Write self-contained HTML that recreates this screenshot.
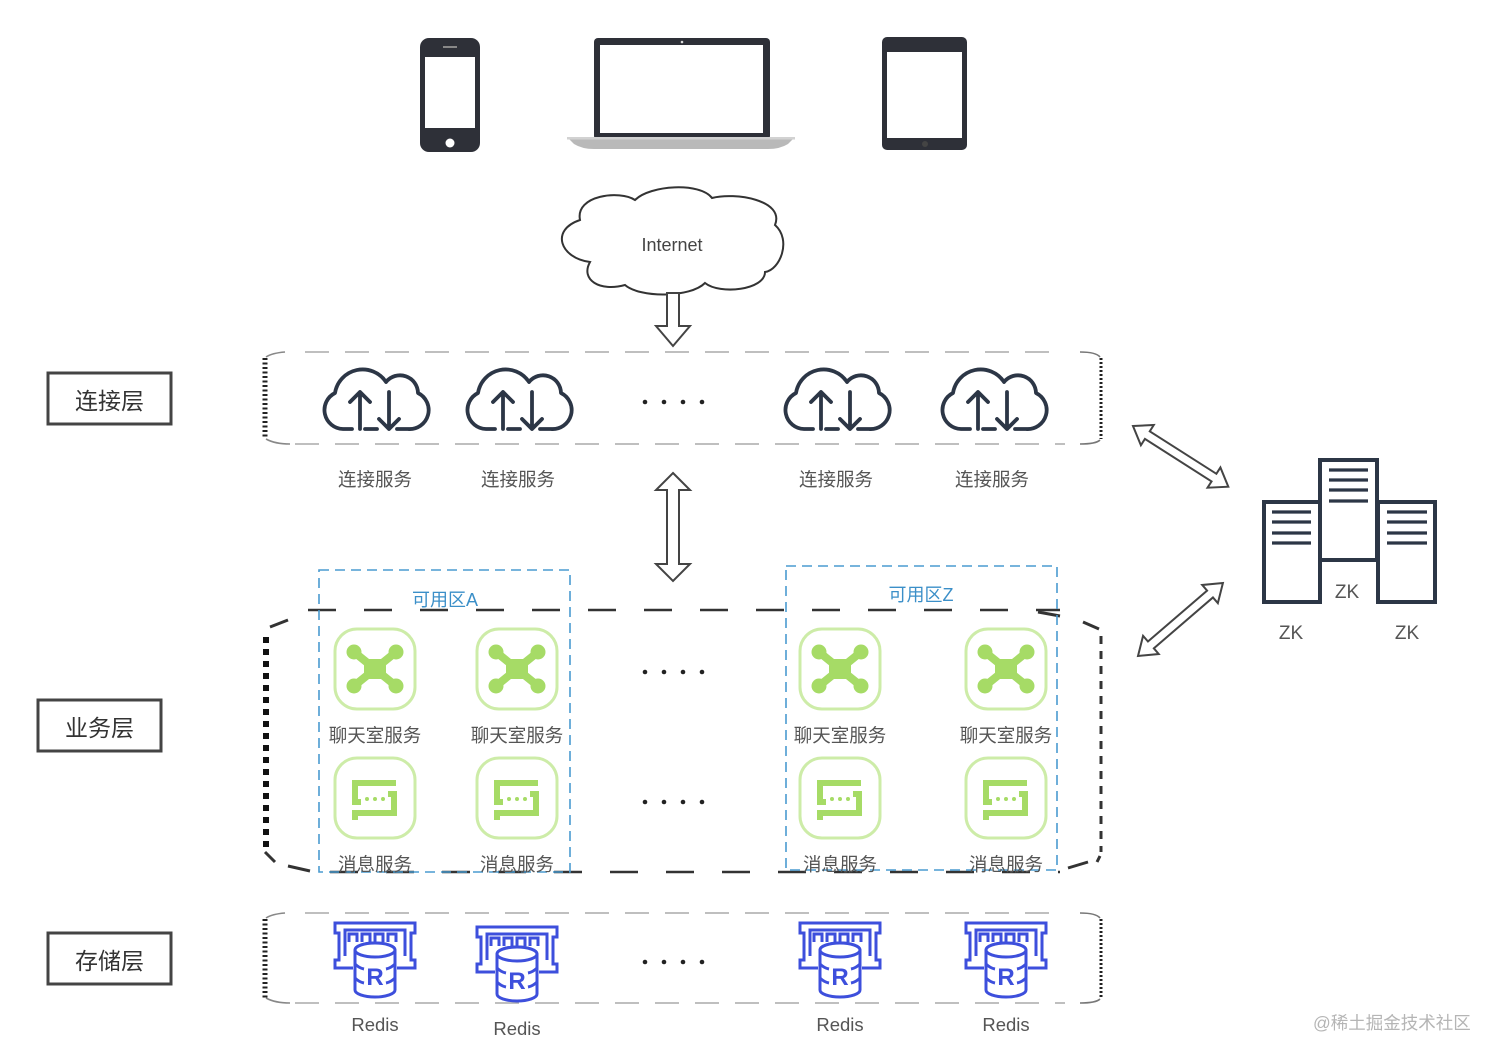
<!DOCTYPE html>
<html><head><meta charset="utf-8"><style>
html,body{margin:0;padding:0;background:#fff;}
svg{display:block;}
text{font-family:"Liberation Sans","Noto Sans CJK SC",sans-serif;}
</style></head><body>
<svg width="1500" height="1061" viewBox="0 0 1500 1061" xmlns="http://www.w3.org/2000/svg">
<defs>
  <g id="cloudio" fill="none" stroke="#2c3646" stroke-width="3.8" stroke-linecap="round" stroke-linejoin="round">
    <path d="M-23 64 H-32 A19 19 0 0 1 -40 28 A28 28 0 0 1 11 17 A18 18 0 0 1 43 28 A19 19 0 0 1 33 64 H22"/>
    <path d="M-15 64 V27 M-25 37 L-15 27 L-5 37"/>
    <path d="M-10 64 H2"/>
    <path d="M14 27 V64 M4 54 L14 64 L24 54"/>
  </g>
  <g id="chat">
    <rect x="-40" y="-40" width="80" height="80" rx="22" fill="none" stroke="#cdeca8" stroke-width="3"/>
    <g stroke="#a6db66" stroke-width="8" stroke-linecap="round">
      <line x1="-21" y1="-17" x2="21" y2="17"/>
      <line x1="21" y1="-17" x2="-21" y2="17"/>
    </g>
    <g fill="#a6db66">
      <rect x="-11" y="-10" width="22" height="20" rx="3"/>
      <circle cx="-21" cy="-17" r="7.5"/><circle cx="21" cy="-17" r="7.5"/>
      <circle cx="-21" cy="17" r="7.5"/><circle cx="21" cy="17" r="7.5"/>
    </g>
  </g>
  <g id="msg">
    <rect x="-40" y="-40" width="80" height="80" rx="22" fill="none" stroke="#cdeca8" stroke-width="3"/>
    <g fill="none" stroke="#a6db66" stroke-width="6">
      <path d="M21 -15 H-20 V4 H-14"/>
      <path d="M13 -4 H19 V15 H-20 V22"/>
    </g>
    <g fill="#a6db66"><circle cx="-8" cy="1" r="2"/><circle cx="0" cy="1" r="2"/><circle cx="8" cy="1" r="2"/></g>
  </g>
  <g id="redis">
    <g fill="none" stroke="#3d4fdc" stroke-width="3" stroke-linejoin="miter">
      <path d="M-22 8 H-40 V0 H-36 V-27 H-40 V-37 H40 V-27 H36 V0 H40 V8 H22"/>
      <path d="M-30 -4 V-30 H30 V-4"/>
      <path d="M-26 -18 V-26 H-18 V-18 M-13 -18 V-26 H-5 V-18 M0 -18 V-26 H8 V-18 M13 -18 V-26 H21 V-18"/>
    </g>
    <path d="M-20 -10 V30 A20 7 0 0 0 20 30 V-10 A20 7 0 0 0 -20 -10 Z" fill="#fff" stroke="#3d4fdc" stroke-width="3"/>
    <ellipse cx="0" cy="-10" rx="20" ry="7" fill="#fff" stroke="#3d4fdc" stroke-width="3"/>
    <path d="M-20 4 Q-16 8 -11 9 M11 9 Q16 8 20 4 M-20 18 Q-16 22 -11 23 M11 23 Q16 22 20 18" fill="none" stroke="#3d4fdc" stroke-width="3"/>
    <text x="0" y="25" text-anchor="middle" font-size="24" font-weight="bold" fill="#3d4fdc">R</text>
  </g>
  <g id="dots" fill="#222"><circle cx="645" cy="0" r="2.3"/><circle cx="664" cy="0" r="2.3"/><circle cx="683" cy="0" r="2.3"/><circle cx="702" cy="0" r="2.3"/></g>
</defs>

<!-- Devices -->
<rect x="420" y="38" width="60" height="114" rx="9" fill="#2e3038"/>
<rect x="425" y="57" width="50" height="71" fill="#fff"/>
<circle cx="450" cy="143" r="4.5" fill="#fff"/>
<rect x="443" y="46" width="14" height="2" fill="#888"/>

<rect x="594" y="38" width="176" height="102" rx="4" fill="#2e3038"/>
<rect x="600" y="45" width="163" height="88" fill="#fff"/>
<circle cx="682" cy="42" r="1.3" fill="#ddd"/>
<path d="M567 137 H795 L788 144 Q780 149 768 149 H594 Q582 149 574 144 Z" fill="#b9b9b9"/>
<rect x="567" y="137" width="228" height="2.5" fill="#d2d2d2"/>

<rect x="882" y="37" width="85" height="113" rx="5" fill="#2e3038"/>
<rect x="887" y="52" width="75" height="86" fill="#fff"/>
<circle cx="925" cy="144" r="3" fill="#444"/>

<!-- Internet cloud -->
<path d="M590 262 C560 258,550 230,580 220 C575 195,620 190,635 200 C650 185,700 182,712 198 C735 192,785 200,775 225 C792 240,780 270,765 272 C765 290,720 295,705 283 C690 298,640 298,625 285 C600 292,580 280,590 262 Z" fill="#fff" stroke="#333" stroke-width="2"/>
<text x="672" y="251" text-anchor="middle" font-size="18" fill="#444">Internet</text>
<polygon points="667,293 679,293 679,326 690,326 673,346 656,326 667,326" fill="#fff" stroke="#444" stroke-width="2"/>

<!-- Left labels -->
<rect x="48" y="373" width="123" height="51" fill="none" stroke="#444" stroke-width="3"/>
<text x="109.5" y="409" text-anchor="middle" font-size="23" fill="#333">连接层</text>
<rect x="38" y="700" width="123" height="51" fill="none" stroke="#444" stroke-width="3"/>
<text x="99.5" y="736" text-anchor="middle" font-size="23" fill="#333">业务层</text>
<rect x="48" y="933" width="123" height="51" fill="none" stroke="#444" stroke-width="3"/>
<text x="109.5" y="969" text-anchor="middle" font-size="23" fill="#333">存储层</text>

<!-- Connection layer box -->
<g fill="none">
  <line x1="305" y1="352" x2="1065" y2="352" stroke="#aaa" stroke-width="1.6" stroke-dasharray="24 16"/>
  <line x1="295" y1="444" x2="1065" y2="444" stroke="#aaa" stroke-width="1.6" stroke-dasharray="24 16"/>
  <path d="M266 357 Q272 353 285 352" stroke="#888" stroke-width="1.6"/>
  <path d="M266 439 Q275 444 290 444" stroke="#888" stroke-width="1.6"/>
  <line x1="265" y1="358" x2="265" y2="438" stroke="#222" stroke-width="5" stroke-dasharray="2 2.5"/>
  <path d="M1080 352 Q1096 352 1100 357" stroke="#777" stroke-width="1.6"/>
  <path d="M1080 444 Q1096 444 1100 440" stroke="#777" stroke-width="1.6"/>
  <line x1="1101" y1="358" x2="1101" y2="439" stroke="#222" stroke-width="3" stroke-dasharray="2 2"/>
</g>
<use href="#cloudio" x="375" y="365"/>
<use href="#cloudio" x="518" y="365"/>
<use href="#cloudio" x="836" y="365"/>
<use href="#cloudio" x="993" y="365"/>
<use href="#dots" x="0" y="402"/>
<g font-size="18.5" fill="#555" text-anchor="middle">
  <text x="375" y="486">连接服务</text>
  <text x="518" y="486">连接服务</text>
  <text x="836" y="486">连接服务</text>
  <text x="992" y="486">连接服务</text>
</g>

<!-- middle double arrow -->
<polygon points="673,473 690,490 679,490 679,564 690,564 673,581 656,564 667,564 667,490 656,490" fill="#fff" stroke="#444" stroke-width="2"/>

<!-- ZK arrows -->
<polygon transform="translate(1133,426) rotate(32.5)" points="0,0 17,-12 17,-4.5 96,-4.5 96,-12 113,0 96,12 96,4.5 17,4.5 17,12" fill="#fff" stroke="#444" stroke-width="2"/>
<polygon transform="translate(1138,656) rotate(-40.7)" points="0,0 17,-12 17,-4.5 95,-4.5 95,-12 112,0 95,12 95,4.5 17,4.5 17,12" fill="#fff" stroke="#444" stroke-width="2"/>

<!-- ZK servers -->
<g fill="#fff" stroke="#2c3646" stroke-width="4">
  <rect x="1264" y="502" width="56" height="100"/>
  <rect x="1378" y="502" width="57" height="100"/>
  <rect x="1320" y="460" width="57" height="100"/>
</g>
<g stroke="#2c3646" stroke-width="3.2">
  <line x1="1329" y1="470" x2="1368" y2="470"/><line x1="1329" y1="480" x2="1368" y2="480"/><line x1="1329" y1="490" x2="1368" y2="490"/><line x1="1329" y1="501" x2="1368" y2="501"/>
  <line x1="1272" y1="512" x2="1311" y2="512"/><line x1="1272" y1="522" x2="1311" y2="522"/><line x1="1272" y1="533" x2="1311" y2="533"/><line x1="1272" y1="543" x2="1311" y2="543"/>
  <line x1="1387" y1="512" x2="1427" y2="512"/><line x1="1387" y1="522" x2="1427" y2="522"/><line x1="1387" y1="533" x2="1427" y2="533"/><line x1="1387" y1="543" x2="1427" y2="543"/>
</g>
<g font-size="19" fill="#555" text-anchor="middle">
  <text x="1347" y="598">ZK</text>
  <text x="1291" y="639">ZK</text>
  <text x="1407" y="639">ZK</text>
</g>

<!-- Business layer box -->
<g fill="none" stroke="#333">
  <line x1="308" y1="610" x2="1060" y2="610" stroke-width="2.6" stroke-dasharray="28 28"/>
  <path d="M270 627 L288 620" stroke-width="3"/>
  <line x1="266" y1="637" x2="266" y2="848" stroke-width="6" stroke-dasharray="6 6" stroke="#111"/>
  <path d="M265 852 L275 862" stroke-width="3"/>
  <path d="M288 866 L310 871" stroke-width="3"/>
  <line x1="330" y1="872" x2="1060" y2="872" stroke-width="2.6" stroke-dasharray="28 28"/>
  <path d="M1038 612 L1060 616" stroke-width="3"/>
  <path d="M1083 622 L1099 629" stroke-width="3"/>
  <line x1="1101" y1="636" x2="1101" y2="852" stroke-width="3" stroke-dasharray="8 7"/>
  <path d="M1100 856 L1097 862" stroke-width="3"/>
  <path d="M1068 868 L1088 862" stroke-width="3"/>
</g>
<!-- availability zones -->
<rect x="319" y="570" width="251" height="302" fill="none" stroke="#4a9bd0" stroke-width="1.6" stroke-dasharray="10 6"/>
<rect x="786" y="566" width="271" height="304" fill="none" stroke="#4a9bd0" stroke-width="1.6" stroke-dasharray="10 6"/>
<text x="445" y="606" text-anchor="middle" font-size="18" fill="#3b8fc8">可用区A</text>
<text x="921" y="601" text-anchor="middle" font-size="18" fill="#3b8fc8">可用区Z</text>

<use href="#chat" x="375" y="669"/>
<use href="#chat" x="517" y="669"/>
<use href="#chat" x="840" y="669"/>
<use href="#chat" x="1006" y="669"/>
<use href="#msg" x="375" y="798"/>
<use href="#msg" x="517" y="798"/>
<use href="#msg" x="840" y="798"/>
<use href="#msg" x="1006" y="798"/>
<use href="#dots" x="0" y="672"/>
<use href="#dots" x="0" y="802"/>
<g font-size="18.5" fill="#555" text-anchor="middle">
  <text x="375" y="742">聊天室服务</text>
  <text x="517" y="742">聊天室服务</text>
  <text x="840" y="742">聊天室服务</text>
  <text x="1006" y="742">聊天室服务</text>
  <text x="375" y="871">消息服务</text>
  <text x="517" y="871">消息服务</text>
  <text x="840" y="871">消息服务</text>
  <text x="1006" y="871">消息服务</text>
</g>

<!-- Storage layer box -->
<g fill="none">
  <line x1="305" y1="913" x2="1065" y2="913" stroke="#aaa" stroke-width="1.6" stroke-dasharray="24 16"/>
  <line x1="295" y1="1003" x2="1065" y2="1003" stroke="#aaa" stroke-width="1.6" stroke-dasharray="24 16"/>
  <path d="M266 918 Q272 914 285 913" stroke="#888" stroke-width="1.6"/>
  <path d="M266 998 Q275 1003 290 1003" stroke="#888" stroke-width="1.6"/>
  <line x1="265" y1="919" x2="265" y2="998" stroke="#222" stroke-width="5" stroke-dasharray="2 2.5"/>
  <path d="M1080 913 Q1096 913 1100 918" stroke="#777" stroke-width="1.6"/>
  <path d="M1080 1003 Q1096 1003 1100 999" stroke="#777" stroke-width="1.6"/>
  <line x1="1101" y1="919" x2="1101" y2="998" stroke="#222" stroke-width="3" stroke-dasharray="2 2"/>
</g>
<use href="#redis" x="375" y="960"/>
<use href="#redis" x="517" y="964"/>
<use href="#redis" x="840" y="960"/>
<use href="#redis" x="1006" y="960"/>
<use href="#dots" x="0" y="962"/>
<g font-size="18.5" fill="#555" text-anchor="middle">
  <text x="375" y="1031">Redis</text>
  <text x="517" y="1035">Redis</text>
  <text x="840" y="1031">Redis</text>
  <text x="1006" y="1031">Redis</text>
</g>

<text x="1313" y="1029" font-size="17.5" fill="#b5b5b5">@稀土掘金技术社区</text>
</svg>
</body></html>
